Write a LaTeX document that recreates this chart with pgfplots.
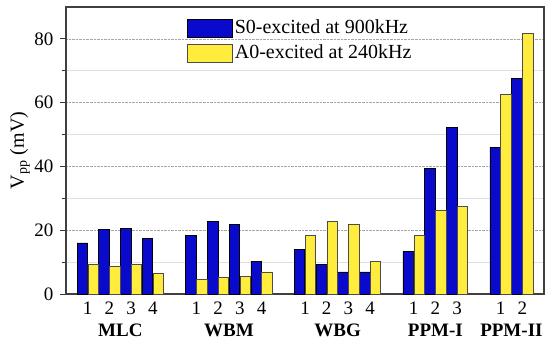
\documentclass[border=0pt]{standalone}
\usepackage{pgfplots}
\pgfplotsset{compat=1.18}
\usetikzlibrary{calc}
\usepackage{fontspec}
\setmainfont{Liberation Serif}
\definecolor{barblue}{RGB}{10,10,205}
\definecolor{baryellow}{RGB}{255,236,60}
\begin{document}
\fontsize{19bp}{22bp}\selectfont
\begin{tikzpicture}
\begin{axis}[
  name=ax,
  scale only axis,
  width=478bp, height=287bp,
  xmin=-1, xmax=21, ymin=0, ymax=90,
  clip=false,
  /pgf/number format/assume math mode=true,
  ticklabel style={font=\fontsize{19bp}{22bp}\selectfont},
  xtick={0,1,2,3,5,6,7,8,10,11,12,13,15,16,17,19,20},
  xticklabels={1,2,3,4,1,2,3,4,1,2,3,4,1,2,3,1,2},
  xtick style={draw=none},
  xticklabel style={yshift=5bp},
  ytick={0,20,40,60,80},
  minor ytick={10,30,50,70},
  ytick pos=left,
  tick align=outside,
  major tick length=6bp, minor tick length=4bp,
  tick style={black!80, line width=0.9bp},
  ymajorgrids, yminorgrids,
  major grid style={densely dotted, black!35, line width=0.6bp},
  minor grid style={black!12, line width=0.6bp},
  axis line style={black!75, line width=1.2bp},
  ylabel={V\textsubscript{pp} (mV)},
  ylabel style={at={([xshift=-46bp]axis description cs:0,0.5)}, anchor=center, font=\fontsize{20bp}{22bp}\selectfont},
  legend style={at={(axis description cs:0.253,0.962)}, anchor=north west, draw=none, fill=none,
    font=\fontsize{20bp}{22bp}\selectfont, row sep=4bp, inner sep=0pt,
    /tikz/every even column/.append style={column sep=0pt}},
  legend cell align=left,
  legend image code/.code={\draw[#1] (0bp,-9bp) rectangle (45bp,9bp);},
]
\addplot[ybar, bar width=0.48, bar shift=0pt, fill=barblue, draw=black, line width=0.7bp] coordinates {
(-0.25,16.0) (0.75,20.2) (1.75,20.6) (2.75,17.5)
(4.75,18.5) (5.75,22.8) (6.75,21.9) (7.75,10.1)
(9.75,14.0) (10.75,9.3) (11.75,6.9) (12.75,6.9)
(14.75,13.4) (15.75,39.4) (16.75,52.3)
(18.75,46.0) (19.75,67.6)};
\addlegendentry{S0-excited at 900kHz}
\addplot[ybar, bar width=0.48, bar shift=0pt, fill=baryellow, draw=black!70, line width=0.7bp] coordinates {
(0.25,9.3) (1.25,8.6) (2.25,9.4) (3.25,6.5)
(5.25,4.6) (6.25,5.1) (7.25,5.6) (8.25,6.9)
(10.25,18.5) (11.25,22.8) (12.25,21.8) (13.25,10.1)
(15.25,18.3) (16.25,26.1) (17.25,27.4)
(19.25,62.5) (20.25,81.8)};
\addlegendentry{A0-excited at 240kHz}
\begin{scope}[every node/.style={font=\fontsize{19bp}{22bp}\selectfont\bfseries, anchor=center}]
\node at ([yshift=-36bp]axis cs:1.5,0) {MLC};
\node at ([yshift=-36bp]axis cs:6.5,0) {WBM};
\node at ([yshift=-36bp]axis cs:11.5,0) {WBG};
\node at ([yshift=-36bp]axis cs:16,0) {PPM-I};
\node at ([yshift=-36bp]axis cs:19.5,0) {PPM-II};
\end{scope}
\end{axis}
\pgfresetboundingbox
\useasboundingbox ($(ax.south west)+(-66bp,-50bp)$) rectangle ($(ax.north east)+(6bp,7bp)$);
\end{tikzpicture}
\end{document}
